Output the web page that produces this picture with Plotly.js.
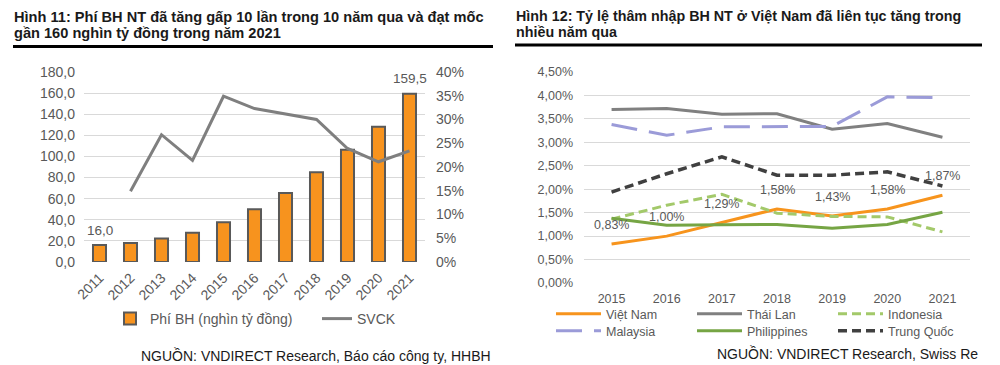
<!DOCTYPE html>
<html>
<head>
<meta charset="utf-8">
<script src="https://cdn.plot.ly/plotly-3.0.1.min.js"></script>
<style>
  html, body { margin: 0; padding: 0; background: #fff; }
  #c1, #c2 { position: absolute; top: 0; width: 500px; height: 365px; }
  #c1 { left: 0; }
  #c2 { left: 500px; }
</style>
</head>
<body>
<div id="c1"></div>
<div id="c2"></div>
<script>
// ---------- Data: Hình 11 ----------
const years11 = ['2011','2012','2013','2014','2015','2016','2017','2018','2019','2020','2021'];
const premium = [16.0, 18.0, 22.2, 27.8, 37.6, 50.0, 65.4, 85.0, 106.4, 128.2, 159.5];
const svck = [null, 0.149, 0.268, 0.214, 0.349, 0.323, 0.312, 0.300, 0.239, 0.211, 0.234];
const name11Bar = 'Phí BH (nghìn tỷ đồng)';
const name11Line = 'SVCK';
const title11 = ['Hình 11: Phí BH NT đã tăng gấp 10 lần trong 10 năm qua và đạt mốc', 'gần 160 nghìn tỷ đồng trong năm 2021'];
const source11 = 'NGUỒN: VNDIRECT Research, Báo cáo công ty, HHBH';

// ---------- Data: Hình 12 ----------
const years12 = ['2015','2016','2017','2018','2019','2020','2021'];
const vietnam = [0.0083, 0.0100, 0.0129, 0.0158, 0.0143, 0.0158, 0.0187];
const thailand = [0.0370, 0.0372, 0.0360, 0.0361, 0.0328, 0.0340, 0.0311];
const indonesia = [0.0136, 0.0166, 0.0189, 0.0149, 0.0142, 0.0141, 0.0109];
const malaysia = [0.0338, 0.0315, 0.0333, 0.0333, 0.0334, 0.0397, 0.0395];
const philippines = [0.0138, 0.0123, 0.0124, 0.0125, 0.0117, 0.0125, 0.0151];
const china = [0.0194, 0.0233, 0.0269, 0.0230, 0.0230, 0.0237, 0.0207];
const names12 = ['Việt Nam', 'Thái Lan', 'Indonesia', 'Malaysia', 'Philippines', 'Trung Quốc'];
const title12 = ['Hình 12: Tỷ lệ thâm nhập BH NT ở Việt Nam đã liên tục tăng trong', 'nhiều năm qua'];
const source12 = 'NGUỒN: VNDIRECT Research, Swiss Re';

const FONT = 'Liberation Sans, Arial, sans-serif';
const GRAY = '#595959';

function mapper(l, t, w, h) {
  return { x: px => (px - l) / w, y: py => (t + h - py) / h };
}

// ---------- Chart 1 ----------
(function () {
  const L = 84, T = 72, W = 341, H = 190;
  const m = mapper(L, T, W, H);
  const last = premium.length - 1;
  const traces = [
    {
      type: 'bar', x: years11, y: premium, name: name11Bar, legend: 'legend',
      width: 0.42,
      marker: { color: '#F7931E', line: { color: '#595959', width: 2 } },
      hoverinfo: 'skip'
    },
    {
      type: 'scatter', mode: 'lines', x: years11, y: svck, yaxis: 'y2', name: name11Line, legend: 'legend2',
      line: { color: '#7F7F7F', width: 3 }, connectgaps: false, hoverinfo: 'skip'
    }
  ];
  const barLabels = [0, last].map(i => ({
    x: i, y: premium[i], xref: 'x', yref: 'y', yshift: 15, showarrow: false,
    text: premium[i].toFixed(1).replace('.', ','), xanchor: 'center', yanchor: 'middle',
    font: { family: FONT, size: 13.5, color: GRAY }
  }));
  const legFont = { family: FONT, size: 14, color: GRAY };
  const layout = {
    width: 500, height: 365,
    margin: { l: L, r: 500 - L - W, t: T, b: 365 - T - H, autoexpand: false },
    paper_bgcolor: '#fff', plot_bgcolor: '#fff',
    separators: ',.',
    font: { family: FONT, size: 14, color: GRAY },
    showlegend: true,
    legend: { orientation: 'h', x: m.x(110), xanchor: 'left', y: m.y(303), yanchor: 'top', font: legFont, itemwidth: 30, bgcolor: 'rgba(0,0,0,0)' },
    legend2: { orientation: 'h', x: m.x(317), xanchor: 'left', y: m.y(303), yanchor: 'top', font: legFont, itemwidth: 30, bgcolor: 'rgba(0,0,0,0)' },
    xaxis: {
      type: 'category', range: [-0.5, years11.length - 0.5], tickangle: -45, showgrid: false, zeroline: false, showline: false,
      ticks: '', tickfont: { family: FONT, size: 14, color: GRAY }, ticklabelstandoff: 4
    },
    yaxis: {
      range: [0, 180], dtick: 20, tickformat: '.1f', showgrid: true, gridcolor: '#D9D9D9', gridwidth: 1,
      zeroline: false, showline: false, ticks: '', ticklabelstandoff: 8,
      tickfont: { family: FONT, size: 14, color: GRAY }
    },
    yaxis2: {
      overlaying: 'y', side: 'right', range: [0, 0.40], dtick: 0.05, tickformat: '.0%',
      showgrid: false, zeroline: false, showline: false, ticks: '', ticklabelstandoff: 10,
      tickfont: { family: FONT, size: 14, color: GRAY }
    },
    annotations: barLabels.concat([
      { text: '<b>' + title11[0] + '</b>', xref: 'paper', yref: 'paper', x: m.x(12), y: m.y(17), xanchor: 'left', yanchor: 'middle', showarrow: false, font: { family: FONT, size: 14.6, color: '#1a1a1a' } },
      { text: '<b>' + title11[1] + '</b>', xref: 'paper', yref: 'paper', x: m.x(12), y: m.y(33), xanchor: 'left', yanchor: 'middle', showarrow: false, font: { family: FONT, size: 14.6, color: '#1a1a1a' } },
      { text: source11, xref: 'paper', yref: 'paper', x: m.x(493), y: m.y(355), xanchor: 'right', yanchor: 'middle', showarrow: false, font: { family: FONT, size: 14, color: '#1a1a1a' } }
    ]),
    shapes: [
      { type: 'line', xref: 'paper', yref: 'paper', x0: m.x(13), x1: m.x(493), y0: m.y(46.5), y1: m.y(46.5), line: { color: '#000', width: 3 } }
    ]
  };
  Plotly.newPlot('c1', traces, layout, { displayModeBar: false, staticPlot: true });
})();

// ---------- Chart 2 ----------
(function () {
  const L = 84, T = 72, W = 386, H = 211;
  const m = mapper(L, T, W, H);
  const series = [vietnam, thailand, indonesia, malaysia, philippines, china];
  const styles = [
    { color: '#F7941D', width: 3, dash: 'solid' },
    { color: '#808080', width: 3, dash: 'solid' },
    { color: '#A3C96A', width: 3, dash: '9px,5px' },
    { color: '#9B9BD8', width: 3, dash: '26px,12px' },
    { color: '#76A544', width: 3, dash: 'solid' },
    { color: '#404040', width: 3.5, dash: '9px,5px' }
  ];
  const traces = series.map((s, i) => ({
    type: 'scatter', mode: 'lines', x: years12, y: s, name: names12[i],
    legend: i < 3 ? 'legend' : 'legend2',
    line: styles[i], hoverinfo: 'skip'
  }));
  const labelAnns = vietnam.map((v, i) => ({
    x: i, y: v, xref: 'x', yref: 'y', yshift: 19, showarrow: false,
    text: (v * 100).toFixed(2).replace('.', ',') + '%',
    xanchor: 'center', yanchor: 'middle',
    font: { family: FONT, size: 12.5, color: GRAY }
  }));
  const legFont = { family: FONT, size: 12.5, color: GRAY };
  const layout = {
    width: 500, height: 365,
    margin: { l: L, r: 500 - L - W, t: T, b: 365 - T - H, autoexpand: false },
    paper_bgcolor: '#fff', plot_bgcolor: '#fff',
    separators: ',.',
    font: { family: FONT, size: 12.5, color: GRAY },
    showlegend: true,
    legend: { orientation: 'h', x: m.x(51), xanchor: 'left', y: m.y(299), yanchor: 'top', font: legFont, entrywidth: 81, itemwidth: 45, bgcolor: 'rgba(0,0,0,0)' },
    legend2: { orientation: 'h', x: m.x(51), xanchor: 'left', y: m.y(316), yanchor: 'top', font: legFont, entrywidth: 81, itemwidth: 45, bgcolor: 'rgba(0,0,0,0)' },
    xaxis: {
      type: 'category', range: [-0.5, years12.length - 0.5], showgrid: false, zeroline: false, showline: false, ticks: '',
      tickfont: { family: FONT, size: 12.5, color: GRAY }, ticklabelstandoff: 6
    },
    yaxis: {
      range: [0, 0.045], dtick: 0.005, tickformat: '.2%', showgrid: true, gridcolor: '#D9D9D9', gridwidth: 1,
      zeroline: false, showline: false, ticks: '', ticklabelstandoff: 10,
      tickfont: { family: FONT, size: 12.5, color: GRAY }
    },
    annotations: labelAnns.concat([
      { text: '<b>' + title12[0] + '</b>', xref: 'paper', yref: 'paper', x: m.x(14), y: m.y(16), xanchor: 'left', yanchor: 'middle', showarrow: false, font: { family: FONT, size: 14.3, color: '#1a1a1a' } },
      { text: '<b>' + title12[1] + '</b>', xref: 'paper', yref: 'paper', x: m.x(14), y: m.y(32), xanchor: 'left', yanchor: 'middle', showarrow: false, font: { family: FONT, size: 14.3, color: '#1a1a1a' } },
      { text: source12, xref: 'paper', yref: 'paper', x: m.x(480), y: m.y(353), xanchor: 'right', yanchor: 'middle', showarrow: false, font: { family: FONT, size: 14, color: '#1a1a1a' } }
    ]),
    shapes: [
      { type: 'line', xref: 'paper', yref: 'paper', x0: m.x(15), x1: m.x(482), y0: m.y(45), y1: m.y(45), line: { color: '#000', width: 3 } }
    ]
  };
  Plotly.newPlot('c2', traces, layout, { displayModeBar: false, staticPlot: true });
})();
</script>
</body>
</html>
